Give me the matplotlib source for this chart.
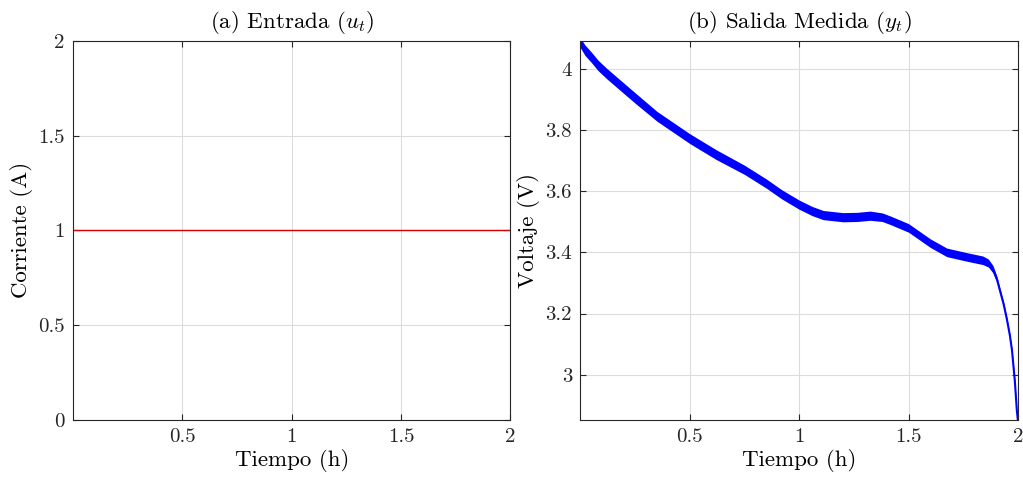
import numpy as np
import matplotlib
matplotlib.use('Agg')
import matplotlib.pyplot as plt

# datos
t_in = [0.0, 2.0]
i_in = [1.0, 1.0]

t_out = [0.0, 0.02, 0.05, 0.08, 0.12, 0.18, 0.25, 0.35, 0.5, 0.62, 0.75, 0.85, 0.92, 1.0,
         1.06, 1.11, 1.2, 1.265, 1.325, 1.38, 1.417, 1.5, 1.6, 1.675, 1.767, 1.84, 1.865, 1.886,
         1.905, 1.918, 1.935, 1.95, 1.963, 1.973, 1.986, 1.995, 2.0]
v_out = [4.085, 4.062, 4.038, 4.012, 3.985, 3.948, 3.905, 3.845, 3.772, 3.72, 3.67, 3.625, 3.59, 3.556,
         3.535, 3.522, 3.515, 3.516, 3.52, 3.515, 3.505, 3.48, 3.43, 3.40, 3.385, 3.374, 3.365, 3.345,
         3.31, 3.275, 3.23, 3.18, 3.13, 3.08, 2.98, 2.885, 2.85]
v_ruido = [0.016, 0.017, 0.017, 0.017, 0.017, 0.017, 0.017, 0.016, 0.016, 0.016, 0.015, 0.015, 0.015, 0.015,
           0.015, 0.015, 0.015, 0.015, 0.015, 0.014, 0.014, 0.014, 0.014, 0.014, 0.014, 0.014, 0.013, 0.012,
           0.010, 0.008, 0.007, 0.006, 0.005, 0.005, 0.004, 0.004, 0.004]

plt.rcParams['font.family'] = 'serif'
plt.rcParams['font.serif'] = ['cmr10']
plt.rcParams['mathtext.fontset'] = 'cm'
plt.rcParams['axes.formatter.use_mathtext'] = True
plt.rcParams['axes.unicode_minus'] = False

fig, axs = plt.subplots(1, 2, figsize=(10.23, 4.86), dpi=100)
fig.subplots_adjust(left=0.0714, right=0.995, bottom=0.136, top=0.916, wspace=0.16)

def estilo(ax):
    ax.grid(True, color='#dcdcdc', linewidth=0.8)
    ax.set_axisbelow(True)
    ax.tick_params(direction='in', top=True, right=True, labelsize=15, colors='#262626',
                   length=4, width=0.8, pad=6)
    for s in ax.spines.values():
        s.set_color('#262626')
        s.set_linewidth(0.8)

ax = axs[0]
ax.plot(t_in, i_in, color='#d40000', linewidth=1.0)
ax.set_xlim(0, 2)
ax.set_ylim(0, 2)
ax.set_xticks([0.5, 1, 1.5, 2])
ax.set_xticklabels(['0.5', '1', '1.5', '2'])
ax.set_yticks([0, 0.5, 1, 1.5, 2])
ax.set_yticklabels(['0', '0.5', '1', '1.5', '2'])
ax.set_title(r'(a) Entrada ($u_t$)', fontsize=16.5, pad=9)
ax.set_xlabel('Tiempo (h)', fontsize=16.5, labelpad=2)
ax.set_ylabel('Corriente (A)', fontsize=16.5, labelpad=4)
estilo(ax)

ax = axs[1]
t = np.array(t_out)
v = np.array(v_out)
r = np.array(v_ruido)
ax.fill_between(t, v - r, v + r, color='#0000ff', linewidth=0)
ax.plot(t, v, color='#0000ff', linewidth=1.5)
ax.set_xlim(0, 2)
ax.set_ylim(2.852, 4.092)
ax.set_xticks([0.5, 1, 1.5, 2])
ax.set_xticklabels(['0.5', '1', '1.5', '2'])
ax.set_yticks([3, 3.2, 3.4, 3.6, 3.8, 4])
ax.set_yticklabels(['3', '3.2', '3.4', '3.6', '3.8', '4'])
ax.set_title(r'(b) Salida Medida ($y_t$)', fontsize=16.5, pad=9)
ax.set_xlabel('Tiempo (h)', fontsize=16.5, labelpad=2)
ax.set_ylabel('Voltaje (V)', fontsize=16.5, labelpad=4)
estilo(ax)

fig.savefig('out.png', dpi=100)
